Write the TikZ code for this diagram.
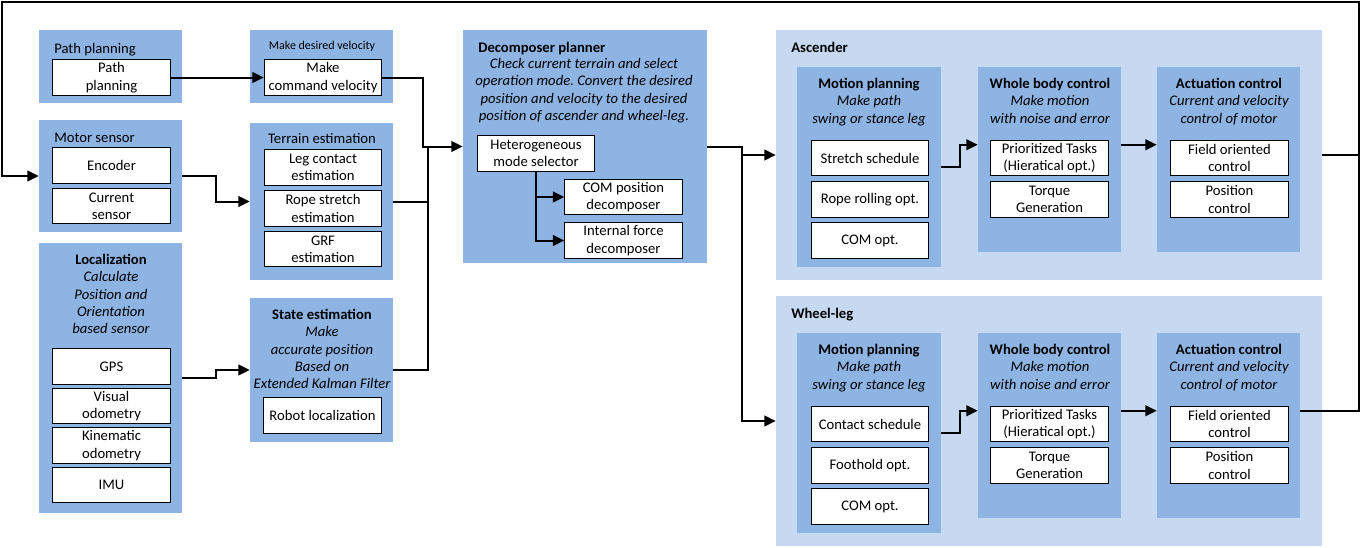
\documentclass[tikz,border=0pt]{standalone}
\usepackage{fontspec}
\setmainfont{Carlito}
\usetikzlibrary{arrows.meta,fit,calc}
\definecolor{grpblue}{HTML}{8EB4E3}
\definecolor{sysblue}{HTML}{C6D9F1}
\frenchspacing

\begin{document}
\begin{tikzpicture}[x=0.75pt, y=-0.75pt,
  font=\fontsize{11}{13}\selectfont,
  grp/.style={fill=grpblue, inner sep=0pt},
  sys/.style={fill=sysblue, inner sep=0pt},
  blk/.style={draw, fill=white, line width=0.9pt, align=center, inner sep=1pt,
    minimum width=88pt, minimum height=26.5pt},
  ttl/.style={align=center, inner sep=0pt, font=\fontsize{11}{13}\selectfont\itshape},
  hd/.style={inner sep=0pt, font=\fontsize{11}{13}\selectfont\bfseries},
  wire/.style={line width=1.5pt},
  conn/.style={wire, -{Triangle[length=8.5pt, width=8pt]}}
]
  \useasboundingbox (0,0) rectangle (1361,547);

  % sensing and planning inputs
  \node[grp, fit={(39,30) (182,103)}] (pp) {};
  \node[anchor=base west, inner sep=0pt] (pp-t) at (54,53) {Path planning};
  \node[blk] (pp-in) at (111.5,77.5) {Path\\planning};

  \node[grp, fit={(39,120) (182,232)}] (ms) {};
  \node[anchor=base west, inner sep=0pt] (ms-t) at (54,142) {Motor sensor};
  \node[blk] (enc) at (111.5,165.5) {Encoder};
  \node[blk] (cur) at (111.5,206) {Current\\sensor};

  \node[grp, fit={(39,243) (182,513)}] (loc) {};
  \node[ttl, anchor=north] (loc-t) at (111,254) {{\upshape\bfseries Localization}\\Calculate\\Position and\\Orientation\\based sensor};
  \node[blk] (gps) at (111.5,366.5) {GPS};
  \node[blk] (vo) at (111.5,406) {Visual\\odometry};
  \node[blk] (ko) at (111.5,445.5) {Kinematic\\odometry};
  \node[blk] (imu) at (111.5,485) {IMU};

  % estimation
  \node[grp, fit={(250,30) (393,103)}] (mdv) {};
  \node[anchor=base, inner sep=0pt, font=\fontsize{9}{11}\selectfont] (mdv-t) at (322,49) {Make desired velocity};
  \node[blk] (mdv-in) at (323,77.5) {Make\\command velocity};

  \node[grp, fit={(250,123) (393,280)}] (te) {};
  \node[anchor=base, inner sep=0pt] (te-t) at (322,143) {Terrain estimation};
  \node[blk] (lce) at (323,167.5) {Leg contact\\estimation};
  \node[blk] (rse) at (323,208.5) {Rope stretch\\estimation};
  \node[blk] (grf) at (323,249) {GRF\\estimation};

  \node[grp, fit={(250,298) (393,442)}] (se) {};
  \node[ttl, anchor=north] (se-t) at (322,309) {{\upshape\bfseries State estimation}\\Make\\accurate position\\Based on\\Extended Kalman Filter};
  \node[blk] (rl) at (322.5,415.5) {Robot localization};

  % decomposer
  \node[grp, fit={(463,30) (707,263)}] (dp) {};
  \node[hd, anchor=base west] (dp-t) at (478,52) {Decomposer planner};
  \node[ttl, anchor=north] (dp-d) at (584,58) {Check current terrain and select\\operation mode. Convert the desired\\position and velocity to the desired\\position of ascender and wheel-leg.};
  \node[blk] (hms) at (536,153.5) {Heterogeneous\\mode selector};
  \node[blk] (cpd) at (623.5,197) {COM position\\decomposer};
  \node[blk] (ifd) at (623.5,240.5) {Internal force\\decomposer};

  % ascender and wheel-leg
  \foreach \sys/\name/\dy/\itema/\itemb in {asc/Ascender/0/Stretch schedule/Rope rolling opt., whl/Wheel-leg/266/Contact schedule/Foothold opt.} {
    \node[sys, fit={(776,30+\dy) (1322,280+\dy)}] (\sys) {};
    \node[hd, anchor=base west] (\sys-t) at (791,52+\dy) {\name};
    % motion planning
    \node[grp, fit={(797,67+\dy) (941,267+\dy)}] (\sys-mp) {};
    \node[ttl, anchor=north] (\sys-mp-t) at (869,78+\dy) {{\upshape\bfseries Motion planning}\\Make path\\swing or stance leg};
    \node[blk] (\sys-mp-a) at (870,158+\dy) {\itema};
    \node[blk] (\sys-mp-b) at (870,199.5+\dy) {\itemb};
    \node[blk] (\sys-mp-c) at (870,240.5+\dy) {COM opt.};
    % whole body control
    \node[grp, fit={(978,67+\dy) (1121,252+\dy)}] (\sys-wb) {};
    \node[ttl, anchor=north] (\sys-wb-t) at (1050,78+\dy) {{\upshape\bfseries Whole body control}\\Make motion\\with noise and error};
    \node[blk] (\sys-wb-a) at (1049.5,158+\dy) {Prioritized Tasks\\(Hieratical opt.)};
    \node[blk] (\sys-wb-b) at (1049.5,199.5+\dy) {Torque\\Generation};
    % actuation control
    \node[grp, fit={(1157,67+\dy) (1300,252+\dy)}] (\sys-ac) {};
    \node[ttl, anchor=north] (\sys-ac-t) at (1229,78+\dy) {{\upshape\bfseries Actuation control}\\Current and velocity\\control of motor};
    \node[blk] (\sys-ac-a) at (1229.5,158+\dy) {Field oriented\\control};
    \node[blk] (\sys-ac-b) at (1229.5,199.5+\dy) {Position\\control};
    \path (\sys-wb.north west) ++(0,78) coordinate (\sys-in);
    \draw[conn] (\sys-mp.east) -- ++(19,0) |- (\sys-in);
    \draw[conn] (\sys-wb.east |- \sys-in) -- (\sys-ac.west |- \sys-in);
  }

  % connectors
  \draw[conn] (pp-in) -- (mdv-in);
  \draw[conn] (mdv-in.east) -- ++(41,0) |- (dp.west);
  \coordinate (merge) at (428,146.5);
  \draw[wire] (te.east) -- (te.east -| merge);
  \draw[wire] (se.east) -| (merge);
  \draw[conn] (ms.east) -- ++(34,0) |- (te.west);
  \draw[conn] (loc.east) -- ++(34,0) |- (se.west);
  \draw[conn] (hms.south) |- (cpd.west);
  \draw[conn] (hms.south) |- (ifd.west);
  \draw[conn] (dp.east) -- ++(35,0) |- (asc.west);
  \draw[conn] (dp.east) -- ++(35,0) |- (whl.west);

  % feedback to motor sensor
  \coordinate (fb-r) at (1359,2);
  \coordinate (fb-l) at (2,2);
  \draw[wire] (asc.east) -- (asc.east -| fb-r);
  \draw[conn] (whl-ac.east |- whl-in) -| (fb-r) -- (fb-l) |- (ms.west);
\end{tikzpicture}
\end{document}
